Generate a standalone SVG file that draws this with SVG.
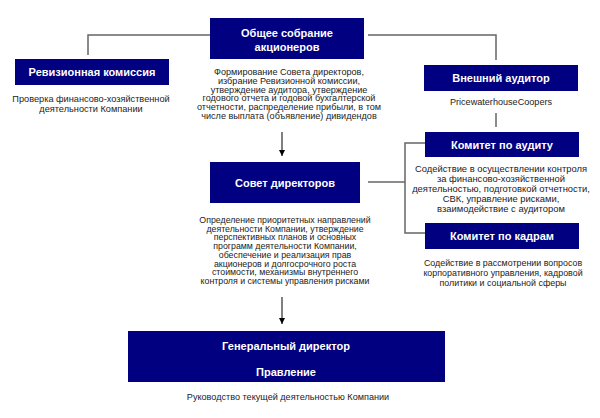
<svg xmlns="http://www.w3.org/2000/svg" width="600" height="418" viewBox="0 0 600 418">
<style>
.box{fill:#000080}
.t{font-family:"Liberation Sans",Arial,sans-serif;font-weight:bold;font-size:11px;fill:#fff;text-anchor:middle}
.d{font-family:"Liberation Sans",Arial,sans-serif;font-size:9.1px;fill:#222;text-anchor:middle}
.c{fill:none;stroke:#666;stroke-width:1.5}
.a{fill:none;stroke:#000;stroke-width:1}
</style>
<defs>
<marker id="ah" markerWidth="8" markerHeight="8" refX="6" refY="3" orient="auto" markerUnits="userSpaceOnUse">
<path d="M0,0 L6,3 L0,6 Z" fill="#000"/>
</marker>
</defs>
<rect width="600" height="418" fill="#fff"/>
<g id="connectors">
<polyline class="c" points="210,35 88,35 88,55"/>
<polyline class="c" points="368,35 496,35 496,60"/>
<line class="c" x1="496" y1="113" x2="496" y2="127"/>
<polyline class="c" points="425,143 405,143 405,233 425,233"/>
<line class="c" x1="368" y1="182" x2="405" y2="182"/>
<line class="a" x1="282" y1="132" x2="282" y2="156" marker-end="url(#ah)"/>
<line class="a" x1="282" y1="297" x2="282" y2="324" marker-end="url(#ah)"/>
</g>
<g id="gsm">
<rect class="box" x="210" y="18" width="154" height="41"/>
<text class="t" x="287" y="37">Общее собрание</text>
<text class="t" x="287" y="51">акционеров</text>
<text class="d" x="289" y="75">Формирование Совета директоров,</text>
<text class="d" x="289" y="83.8">избрание Ревизионной комиссии,</text>
<text class="d" x="289" y="92.6">утверждение аудитора, утверждение</text>
<text class="d" x="289" y="101.4">годового отчета и годовой бухгалтерской</text>
<text class="d" x="289" y="110.2">отчетности, распределение прибыли, в том</text>
<text class="d" x="289" y="119">числе выплата  (объявление)  дивидендов</text>
</g>
<g id="revcom">
<rect class="box" x="15" y="59" width="154" height="26"/>
<text class="t" x="92" y="76">Ревизионная комиссия</text>
<text class="d" x="91" y="102" style="font-size:9.2px">Проверка финансово-хозяйственной</text>
<text class="d" x="91" y="112" style="font-size:9.2px">деятельности Компании</text>
</g>
<g id="auditor">
<rect class="box" x="424" y="65" width="154" height="26"/>
<text class="t" x="501" y="82">Внешний аудитор</text>
<text class="d" x="501" y="105">PricewaterhouseCoopers</text>
</g>
<g id="auditcom" style="font-size:9.4px">
<rect class="box" x="425" y="132" width="154" height="25"/>
<text class="t" x="502" y="149">Комитет по аудиту</text>
<text class="d" x="501" y="172" style="font-size:9.4px">Содействие в осуществлении контроля</text>
<text class="d" x="501" y="182" style="font-size:9.4px">за финансово-хозяйственной</text>
<text class="d" x="501" y="192" style="font-size:9.4px">деятельностью, подготовкой отчетности,</text>
<text class="d" x="501" y="202" style="font-size:9.4px">СВК, управление рисками,</text>
<text class="d" x="501" y="212" style="font-size:9.4px">взаимодействие  с аудитором</text>
</g>
<g id="hrcom">
<rect class="box" x="425" y="223" width="154" height="26"/>
<text class="t" x="502" y="240">Комитет по кадрам</text>
<text class="d" x="503" y="266" style="font-size:8.9px">Содействие в рассмотрении вопросов</text>
<text class="d" x="503" y="276" style="font-size:8.9px">корпоративного управления, кадровой</text>
<text class="d" x="503" y="286" style="font-size:8.9px">политики и  социальной сферы</text>
</g>
<g id="board">
<rect class="box" x="210" y="162" width="150" height="41"/>
<text class="t" x="285" y="187">Совет директоров</text>
<text class="d" x="285" y="223" style="font-size:8.8px">Определение приоритетных направлений</text>
<text class="d" x="285" y="231.7" style="font-size:8.8px">деятельности Компании,  утверждение</text>
<text class="d" x="285" y="240.4" style="font-size:8.8px">перспективных планов и основных</text>
<text class="d" x="285" y="249.1" style="font-size:8.8px">программ деятельности Компании,</text>
<text class="d" x="285" y="257.8" style="font-size:8.8px">обеспечение и реализация  прав</text>
<text class="d" x="285" y="266.5" style="font-size:8.8px">акционеров и долгосрочного роста</text>
<text class="d" x="285" y="275.2" style="font-size:8.8px">стоимости, механизмы внутреннего</text>
<text class="d" x="285" y="283.9" style="font-size:8.8px">контроля и системы управления рисками</text>
</g>
<g id="ceo">
<rect class="box" x="128" y="331" width="317" height="51"/>
<text class="t" x="286" y="350">Генеральный директор</text>
<text class="t" x="286" y="376">Правление</text>
<text class="d" x="288" y="400">Руководство  текущей деятельностью Компании</text>
</g>
</svg>
